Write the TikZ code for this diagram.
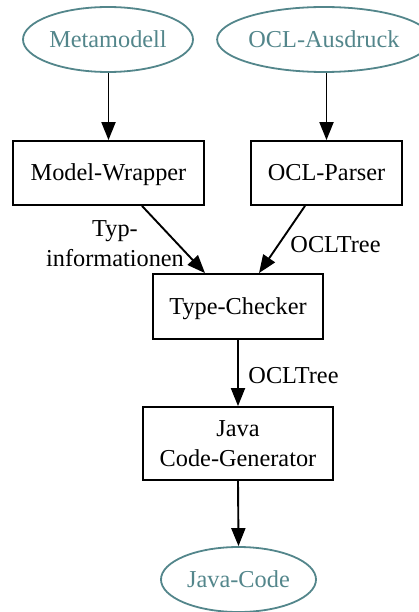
\documentclass[tikz,border=0pt]{standalone}
\usepackage{fontspec}
\setmainfont{Liberation Serif}
\usetikzlibrary{shapes.geometric,arrows.meta}

\definecolor{artifact}{RGB}{83,134,139}

\tikzset{
  txt/.style={font=\fontsize{24.3}{30}\selectfont},
  artifactnode/.style={txt, ellipse, draw=artifact, text=artifact, line width=1.8pt,
    inner sep=0pt, text height=16pt, text depth=0pt},
  toolbox/.style={txt, rectangle, draw=black, line width=1.8pt, inner sep=0pt,
    align=center},
  oneline/.style={text height=16pt, text depth=0pt},
  flow/.style={line width=1.9pt, -{Triangle[length=18pt,width=14pt]}},
  edgelabel/.style={txt, inner sep=0pt, align=center},
}

\begin{document}
\begin{tikzpicture}[x=1pt, y=-1pt]
  \useasboundingbox (0,0) rectangle (419,612);

  % inputs
  \node[artifactnode, minimum width=170pt, minimum height=65pt] (meta) at (108,39.5) {Metamodell};
  \node[artifactnode, minimum width=198pt, minimum height=65pt] (ocl) at (324,39.5) {OCL-Ausdruck};

  % processing stages
  \node[toolbox, oneline, minimum width=191pt, minimum height=64pt] (wrap) at (108.5,173) {Model-Wrapper};
  \node[toolbox, oneline, minimum width=151pt, minimum height=64pt] (parse) at (326.5,173) {OCL-Parser};
  \node[toolbox, oneline, minimum width=170pt, minimum height=65pt] (check) at (238,306.5) {Type-Checker};
  \node[toolbox, minimum width=190pt, minimum height=73pt] (gen) at (238,443.5) {Java\\Code-Generator};

  % output
  \node[artifactnode, minimum width=155pt, minimum height=65pt] (code) at (238.5,579.5) {Java-Code};

  % data flow
  \draw[flow] (meta.south -| wrap) -- (wrap.north);
  \draw[flow] (ocl.south -| parse) -- (parse.north);
  \draw[flow] ([xshift=33.5pt]wrap.south) -- ([xshift=-33pt]check.north);
  \draw[flow] ([xshift=-21.5pt]parse.south) -- ([xshift=21pt]check.north);
  \draw[flow] (check.south) -- (gen.north);
  \draw[flow] (gen.south) -- (code.north);

  % edge labels
  \node[edgelabel] (lbltype) at (115,243.5) {Typ-\\informationen};
  \node[edgelabel, anchor=base] (lbltree1) at (335.5,252) {OCLTree};
  \node[edgelabel, anchor=base] (lbltree2) at (293.5,383) {OCLTree};
\end{tikzpicture}
\end{document}
